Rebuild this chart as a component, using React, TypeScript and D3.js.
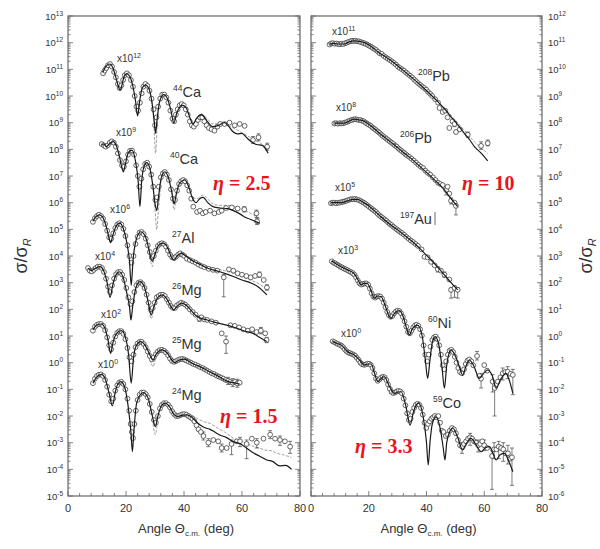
import { useEffect, useRef } from 'react'
import * as d3 from 'd3'

// [angle in deg, log10(sigma/sigmaR)]
type Pt = [number, number]
// [angle, log10 value, log10 low, log10 high]
type Err = [number, number, number, number]

const X_TICKS = [0, 20, 40, 60, 80]

// ---------- left panel (eta 1.5 .. 2.5) ----------
const ca44Theory: Pt[] = [[12.1,10.9],[13,11.1],[14.4,11.2],[15.5,11.05],[16.5,10.7],[17.4,10.35],[18,10.22],[18.6,10.4],[19.3,10.72],[20.2,10.84],[21.2,10.75],[22.3,10.4],[23.3,9.8],[24,9.25],[24.7,9.8],[25.6,10.3],[26.7,10.42],[27.8,10.3],[28.9,9.8],[29.7,9.1],[30.2,8.6],[30.7,9.1],[31.6,9.8],[33,10.05],[34.3,9.9],[35.5,9.45],[36.5,9.0],[37.5,9.35],[39.3,9.66],[40.8,9.55],[42,9.2],[43.1,8.95],[44.3,9.15],[46,9.3],[48,9.05],[50,8.85],[52,8.9],[54,9.0],[55.5,8.85],[57,8.65],[58.5,8.58],[60,8.6],[61.5,8.45],[63,8.3],[65,8.18],[67,8.15],[69,7.85]]
const ca44Dashed: Pt[][] = [
  [[27.8,10.3],[28.9,9.8],[29.6,9.0],[30.2,7.85],[30.8,9.0],[31.6,9.8],[33,10.05]],
  [[46,9.35],[48,9.15],[50,8.95],[52,8.95],[54,8.95],[56,8.85],[58,8.75],[60,8.62],[62,8.5],[64,8.38],[66.5,8.22],[69,8.0]]
]
const ca44Data: Pt[] = [[12.1,10.85],[12.6,10.95],[13.2,11.05],[13.8,11.15],[14.5,11.2],[15.2,11.1],[15.9,10.9],[16.5,10.7],[17.2,10.45],[17.8,10.3],[18.4,10.4],[19,10.6],[19.6,10.78],[20.3,10.85],[21,10.78],[21.7,10.6],[22.4,10.35],[23,10.0],[23.6,9.6],[24.2,9.45],[24.8,9.75],[25.4,10.1],[26,10.35],[26.7,10.45],[27.4,10.38],[28.1,10.2],[28.8,9.9],[29.5,9.5],[30,8.9],[30.5,9.2],[31.1,9.6],[31.8,9.9],[32.5,10.05],[33.2,10.05],[33.9,9.95],[34.6,9.75],[35.3,9.45],[36,9.15],[36.6,9.05],[37.2,9.3],[37.8,9.5],[38.5,9.65],[39.2,9.7],[39.9,9.65],[40.6,9.5],[41.3,9.3],[42,9.05],[42.7,8.9],[43.4,8.85],[44.1,8.95],[44.8,9.1],[45.5,9.2],[46.3,9.2],[47,9.05],[47.8,8.9],[48.6,8.8],[49.5,8.75],[50.5,8.7],[51.5,8.85],[52.5,8.95],[54,8.95],[55.7,9.0],[57.5,8.9],[59.2,8.95],[60.9,8.88],[63.8,8.35],[65.7,8.45],[68.7,8.1]]
const ca44Err: Err[] = [[63.8,8.35,8.22,8.48],[65.7,8.45,8.32,8.58],[68.7,8.1,7.97,8.23]]

const ca40Theory: Pt[] = [[11.6,8.15],[12.4,8.2],[13.3,8.1],[14.2,8.2],[15.6,8.29],[16.8,8.1],[17.8,7.7],[18.6,7.3],[19.1,7.15],[19.7,7.4],[20.7,7.85],[22,7.97],[23.2,7.6],[24.2,6.8],[24.8,5.85],[25.4,6.8],[26.2,7.35],[27.1,7.5],[28.2,7.3],[29.3,6.6],[30.1,5.9],[30.6,5.7],[31.2,6.2],[32.2,6.95],[33.4,7.16],[34.6,6.95],[35.8,6.4],[36.6,5.95],[37.3,6.3],[38.6,6.75],[40.3,6.85],[41.6,6.6],[43,6.15],[44.2,6.0],[45.4,6.15],[46.6,6.2],[48.2,6.0],[50,5.85],[52.5,5.8],[55,5.78],[57,5.7],[59.4,5.57],[61,5.45],[62.8,5.38],[64.5,5.3],[66.2,5.23]]
const ca40Dashed: Pt[][] = [
  [[29.3,6.6],[30.1,5.6],[30.6,4.98],[31.1,5.6],[32.2,6.95]],
  [[35.8,6.4],[36.6,5.73],[37.3,6.3]],
  [[43,6.2],[44.5,6.15],[46.6,6.29],[48.5,6.1],[50,5.95],[52.5,5.9],[55,5.9],[57.5,5.85],[60,5.75],[63,5.6],[66.2,5.4]]
]
const ca40Data: Pt[] = [[11.6,8.2],[12.3,8.15],[13,8.1],[13.7,8.15],[14.4,8.25],[15.1,8.3],[15.8,8.25],[16.5,8.1],[17.2,7.85],[17.9,7.6],[18.6,7.4],[19.3,7.35],[20,7.55],[20.7,7.8],[21.4,7.95],[22.1,7.95],[22.8,7.8],[23.5,7.4],[24.1,7.0],[24.6,6.6],[25.3,6.9],[25.9,7.25],[26.6,7.45],[27.3,7.5],[28,7.35],[28.7,7.05],[29.4,6.6],[30.1,6.1],[30.7,6.2],[31.3,6.6],[32,6.95],[32.7,7.1],[33.4,7.15],[34.1,7.05],[34.8,6.85],[35.5,6.5],[36.2,6.15],[36.9,6.1],[37.6,6.45],[38.3,6.7],[39,6.8],[39.7,6.85],[40.4,6.8],[41.1,6.65],[41.8,6.45],[42.5,6.15],[43.2,5.85],[44.5,5.65],[45.5,5.7],[46.5,5.6],[47.5,5.65],[49,5.7],[50.5,5.6],[52,5.65],[53,5.7],[54.5,5.8],[56.5,5.82],[58.5,5.78],[60.8,5.75],[65,5.6],[65.2,5.3]]
const ca40Err: Err[] = [[60.8,5.75,5.65,5.85],[65,5.6,5.45,5.72],[65.2,5.3,5.18,5.42]]

const al27Theory: Pt[] = [[8.6,5.3],[9.7,5.48],[10.9,5.54],[12,5.45],[13.2,5.1],[14.1,4.7],[14.7,4.5],[15.4,4.75],[16.5,5.1],[17.8,5.23],[19,5.05],[20.2,4.55],[21.2,3.8],[21.8,2.9],[22.4,3.8],[23.5,4.6],[25.1,4.91],[26.6,4.75],[27.8,4.3],[28.6,3.9],[29.1,3.8],[29.8,4.0],[31.2,4.4],[32.8,4.48],[34.4,4.3],[35.7,3.95],[36.6,3.85],[37.6,4.0],[39.1,4.1],[40.6,4.0],[42.5,3.85],[44.3,3.75],[46,3.66],[48,3.55],[50,3.48],[52,3.42],[54,3.35],[57,3.23],[60,3.1],[62.8,3.0],[65.5,2.85],[68.6,2.54]]
const al27Dashed: Pt[][] = [
  [[27.8,4.3],[28.6,3.75],[29,3.6],[29.4,3.75],[30.2,4.1]],
  [[46,3.7],[50,3.55],[54,3.45],[57,3.35],[60,3.22],[62.8,3.1],[65.5,2.98],[68.6,2.75]]
]
const al27Data: Pt[] = [[8.6,5.28],[9.3,5.42],[10,5.5],[10.7,5.55],[11.4,5.5],[12.1,5.4],[12.8,5.2],[13.5,4.95],[14.2,4.7],[14.9,4.65],[15.6,4.85],[16.3,5.05],[17,5.18],[17.7,5.23],[18.4,5.18],[19.1,5.02],[19.8,4.75],[20.5,4.4],[21.2,4.0],[21.9,3.75],[22.6,4.0],[23.3,4.45],[24,4.72],[24.7,4.88],[25.4,4.9],[26.1,4.82],[26.8,4.65],[27.5,4.4],[28.2,4.15],[28.9,3.95],[29.6,4.0],[30.3,4.2],[31,4.38],[31.7,4.45],[32.4,4.48],[33.1,4.45],[33.8,4.35],[34.5,4.2],[35.2,4.05],[35.9,3.95],[36.6,3.92],[37.3,3.98],[38,4.05],[38.7,4.1],[39.4,4.05],[40.1,4.0],[41,3.9],[42,3.85],[43,3.8],[44,3.75],[45,3.68],[46,3.62],[47,3.58],[48.5,3.52],[50,3.48],[51.5,3.45],[53.7,3.2],[55.5,3.5],[57,3.45],[58.5,3.35],[60,3.3],[61.5,3.25],[63,3.2],[64.5,3.25],[66,3.3],[67.5,3.1],[68.6,2.82]]
const al27Err: Err[] = [[53.7,3.2,2.47,3.3],[66,3.3,3.2,3.4],[68.6,2.82,2.72,2.92]]

const mg26Theory: Pt[] = [[6.9,3.55],[8,3.45],[9.2,3.52],[11,3.6],[12.3,3.45],[13.5,3.0],[14.5,2.45],[15.4,2.9],[16.6,3.3],[17.8,3.41],[19,3.2],[20.3,2.6],[21.2,2.1],[21.7,1.6],[22.3,2.1],[23.4,2.8],[24.8,3.04],[26.3,2.85],[27.6,2.3],[28.7,1.79],[29.6,2.1],[31,2.45],[32.5,2.54],[34,2.4],[35.5,2.1],[36.4,1.98],[37.5,2.1],[39.2,2.23],[40.8,2.15],[42.5,1.95],[44,1.78],[45.5,1.68],[48,1.6],[51,1.5],[54.7,1.41],[58,1.3],[61,1.18],[63.8,1.1],[66,0.95],[68.5,0.79]]
const mg26Dashed: Pt[][] = [[[27.6,2.3],[28.7,1.65],[29.6,2.1]]]
const mg26Data: Pt[] = [[6.9,3.55],[7.5,3.45],[8.2,3.42],[8.9,3.48],[9.6,3.55],[10.3,3.6],[11,3.6],[11.7,3.55],[12.4,3.4],[13.1,3.15],[13.8,2.85],[14.5,2.65],[15.2,2.9],[15.9,3.15],[16.6,3.32],[17.3,3.4],[18,3.4],[18.7,3.3],[19.4,3.1],[20.1,2.8],[20.8,2.45],[21.5,2.2],[22.2,2.3],[22.9,2.65],[23.6,2.9],[24.3,3.0],[25,3.02],[25.7,2.95],[26.4,2.8],[27.1,2.55],[27.8,2.25],[28.5,2.0],[29.2,2.05],[29.9,2.25],[30.6,2.45],[31.3,2.5],[32,2.55],[32.7,2.55],[33.4,2.5],[34.1,2.38],[34.8,2.25],[35.5,2.12],[36.2,2.05],[36.9,2.05],[37.6,2.15],[38.3,2.2],[39,2.25],[39.7,2.22],[40.4,2.18],[41.2,2.1],[42,2.0],[43,1.9],[44,1.8],[45.3,1.65],[46,1.7],[47,1.62],[48,1.6],[49.5,1.55],[51,1.5],[53,1.1],[54.5,0.79],[56,1.4],[57.5,1.38],[59,1.32],[60.5,1.25],[62,1.2],[63.5,1.25],[65,1.15],[66.5,1.2],[68,1.1],[68.5,0.85]]
const mg26Err: Err[] = [[45.3,1.65,1.55,1.75],[54.5,0.79,0.35,1.0],[66.5,1.2,1.08,1.32],[68.5,0.85,0.75,0.95]]

const mg25Theory: Pt[] = [[8.6,1.23],[9.8,1.4],[11.5,1.45],[12.7,1.3],[13.8,0.85],[14.7,0.35],[15.5,0.75],[16.8,1.1],[18.4,1.2],[19.8,0.95],[20.9,0.3],[21.8,-0.77],[22.6,0.2],[23.6,0.65],[25.1,0.79],[26.6,0.65],[28.2,0.3],[29.3,0.1],[30.3,0.3],[32.4,0.48],[34.3,0.35],[35.8,0.1],[36.8,0.0],[38,0.08],[40.2,0.13],[42,0.03],[43.7,-0.07],[45.5,-0.15],[47.1,-0.24],[49,-0.35],[50.6,-0.44],[52.5,-0.55],[54,-0.65],[55.5,-0.72],[57,-0.75],[59.2,-0.8]]
const mg25Dashed: Pt[][] = [[[28.2,0.3],[29.3,-0.15],[30.3,0.3]]]
const mg25Data: Pt[] = [[8.6,1.2],[9.3,1.35],[10,1.42],[10.7,1.45],[11.4,1.45],[12.1,1.38],[12.8,1.22],[13.5,0.95],[14.2,0.65],[14.9,0.5],[15.6,0.75],[16.3,0.98],[17,1.12],[17.7,1.18],[18.4,1.18],[19.1,1.08],[19.8,0.88],[20.5,0.55],[21.2,0.2],[21.9,0.05],[22.6,0.3],[23.3,0.58],[24,0.72],[24.7,0.78],[25.4,0.78],[26.1,0.7],[26.8,0.58],[27.5,0.42],[28.2,0.25],[28.9,0.12],[29.6,0.2],[30.3,0.32],[31,0.42],[31.7,0.47],[32.4,0.48],[33.1,0.45],[33.8,0.38],[34.5,0.28],[35.2,0.15],[35.9,0.06],[36.6,0.03],[37.3,0.06],[38,0.1],[38.7,0.13],[39.4,0.14],[40.1,0.12],[40.8,0.08],[41.6,0.04],[42.4,0.0],[43.2,-0.05],[44,-0.08],[44.8,-0.12],[45.6,-0.17],[46.4,-0.2],[47.2,-0.25],[48,-0.3],[48.8,-0.35],[49.6,-0.4],[50.4,-0.43],[51.2,-0.48],[52,-0.52],[52.8,-0.56],[53.6,-0.6],[54.4,-0.65],[55.2,-0.68],[56,-0.72],[56.8,-0.75],[57.6,-0.72],[58.4,-0.78],[59.2,-0.75]]
const mg25Err: Err[] = [[55.2,-0.68,-0.82,-0.55],[56.8,-0.75,-0.9,-0.6],[58.4,-0.78,-0.92,-0.62]]

const mg24Theory: Pt[] = [[8.6,-0.77],[9.8,-0.55],[11.5,-0.44],[12.8,-0.6],[14.2,-1.15],[15.3,-1.62],[16.3,-1.1],[17.2,-0.8],[18.2,-0.71],[19.5,-0.9],[20.7,-1.6],[21.7,-2.6],[22.2,-3.34],[22.7,-2.6],[23.7,-1.5],[25.9,-1.12],[27.5,-1.3],[29,-1.95],[30.1,-2.4],[31,-2.0],[32.3,-1.6],[33.6,-1.52],[35,-1.65],[36.6,-1.95],[37.9,-2.02],[39.4,-1.97],[41.1,-1.96],[42.7,-2.05],[44.8,-2.27],[46.5,-2.4],[47.8,-2.46],[49,-2.5],[50.6,-2.6],[52.5,-2.72],[54.5,-2.8],[57,-2.96],[59.5,-3.05],[61.5,-3.2],[64,-3.39],[66,-3.5],[68.5,-3.65],[70.5,-3.7],[73,-3.87],[75,-3.85],[77.1,-4.0]]
const mg24Dashed: Pt[][] = [
  [[29,-1.95],[30.1,-2.7],[31,-2.0]],
  [[41.1,-1.96],[43,-2.0],[45,-2.12],[47,-2.22],[49,-2.28],[51,-2.42],[54,-2.6],[57,-2.83],[60,-2.95],[62,-3.05],[64,-3.14],[66,-3.2],[68,-3.28],[70,-3.3],[72,-3.4],[74,-3.45],[77,-3.55]]
]
const mg24Data: Pt[] = [[8.6,-0.77],[9.3,-0.6],[10,-0.5],[10.7,-0.45],[11.4,-0.44],[12.1,-0.5],[12.8,-0.65],[13.5,-0.9],[14.2,-1.2],[14.9,-1.45],[15.6,-1.35],[16.3,-1.05],[17,-0.85],[17.7,-0.74],[18.4,-0.72],[19.1,-0.8],[19.8,-1.0],[20.5,-1.35],[21.1,-1.8],[21.6,-2.3],[22,-2.6],[22.4,-2.83],[22.9,-2.3],[23.4,-1.8],[24,-1.4],[24.7,-1.2],[25.4,-1.12],[26.1,-1.12],[26.8,-1.18],[27.5,-1.3],[28.2,-1.55],[28.9,-1.85],[29.6,-2.15],[30.3,-2.25],[31,-2.0],[31.7,-1.72],[32.4,-1.58],[33.1,-1.52],[33.8,-1.52],[34.5,-1.58],[35.2,-1.68],[35.9,-1.82],[36.6,-1.93],[37.3,-2.0],[38,-2.0],[38.7,-1.97],[39.4,-1.94],[40.1,-1.93],[40.8,-1.95],[41.5,-2.0],[42.2,-2.05],[42.9,-2.1],[43.6,-2.2],[44.3,-2.35],[45,-2.5],[45.8,-2.6],[46.7,-2.75],[48.4,-3.0],[50.1,-2.9],[51.8,-2.95],[53,-3.2],[54.7,-3.2],[56.4,-3.05],[58.2,-2.95],[59.3,-2.95],[61.6,-3.05],[63.4,-2.85],[65.1,-3.0],[67.4,-2.85],[69.7,-2.7],[71.4,-2.85],[73.1,-2.9],[74.8,-2.95],[76.6,-3.15]]
const mg24Err: Err[] = [[46.7,-2.75,-2.9,-2.6],[48.4,-3.0,-3.15,-2.85],[53,-3.2,-3.35,-3.05],[56.4,-3.05,-3.45,-2.9],[59.3,-2.95,-3.15,-2.8],[61.6,-3.05,-3.6,-2.9],[65.1,-3.0,-3.2,-2.85],[69.7,-2.7,-2.85,-2.55],[73.1,-2.9,-3.1,-2.75],[76.6,-3.15,-3.4,-2.95]]

// ---------- right panel (eta 3.3 .. 10) ----------
const pb208Theory: Pt[] = [[6.35,10.95],[8,10.97],[9.5,10.95],[11.5,10.95],[13,11.02],[15,11.07],[16.8,11.05],[18.5,11.0],[20.5,10.88],[23.1,10.66],[26,10.45],[28.9,10.23],[31.7,9.98],[34.6,9.72],[37.5,9.45],[40.4,9.16],[43.9,8.79],[46,8.55],[48.5,8.22],[51,7.9],[53.1,7.6],[55,7.35],[56.6,7.1],[59,6.85],[61.2,6.57]]
const pb208Dashed: Pt[][] = [[[46,8.58],[48.5,8.28],[52,7.85],[56.6,7.28],[61.2,6.85]]]
const pb208Data: Pt[] = [[6.4,10.93],[7,10.97],[7.6,10.98],[8.2,10.96],[8.8,10.97],[9.4,10.95],[10,10.94],[10.6,10.96],[11.2,10.95],[11.8,10.98],[12.4,11.0],[13,11.03],[13.6,11.05],[14.2,11.07],[14.8,11.06],[15.4,11.07],[16,11.05],[16.6,11.05],[17.2,11.02],[17.8,11.0],[18.4,10.98],[19,10.95],[19.6,10.92],[20.2,10.88],[20.8,10.85],[21.4,10.8],[22,10.76],[22.6,10.72],[23.2,10.66],[23.8,10.6],[24.5,10.58],[25.2,10.5],[25.9,10.45],[26.6,10.4],[27.3,10.35],[28,10.3],[28.7,10.24],[29.4,10.18],[30.1,10.1],[30.8,10.05],[31.5,10.0],[32.2,9.95],[32.9,9.88],[33.6,9.82],[34.3,9.76],[35,9.7],[35.7,9.62],[36.4,9.55],[37.1,9.48],[37.8,9.42],[38.5,9.36],[39.2,9.3],[39.9,9.24],[40.6,9.15],[41.3,9.08],[42,9.0],[43,8.88],[44,8.75],[44.5,8.55],[45.6,8.4],[46.5,8.45],[47.3,8.2],[47.9,7.8],[49,8.05],[49.7,7.95],[50.2,7.65],[51.5,7.75],[54.3,7.55],[58.9,7.13],[61.2,7.23]]
const pb208Err: Err[] = [[49.7,7.95,7.85,8.05],[54.3,7.55,7.45,7.65],[58.9,7.13,7.0,7.28],[61.2,7.23,7.13,7.35]]

const pb206Theory: Pt[] = [[8.1,7.98],[10,7.98],[11.5,7.98],[13,8.05],[15,8.13],[16.8,8.1],[18.5,8.05],[20.5,7.9],[23.1,7.66],[26,7.41],[28.9,7.16],[31.7,6.91],[34.6,6.66],[37.5,6.38],[40.4,6.1],[43.3,5.8],[46.2,5.48],[48.5,5.15],[50.8,4.85]]
const pb206Data: Pt[] = [[8.1,7.97],[8.7,7.98],[9.3,7.96],[9.9,7.98],[10.5,7.97],[11.1,7.98],[11.7,8.0],[12.3,8.02],[12.9,8.05],[13.5,8.08],[14.1,8.1],[14.7,8.12],[15.3,8.13],[15.9,8.12],[16.5,8.1],[17.1,8.1],[17.7,8.07],[18.3,8.05],[18.9,8.0],[19.5,7.96],[20.1,7.92],[20.7,7.88],[21.3,7.82],[21.9,7.77],[22.5,7.72],[23.1,7.67],[23.7,7.62],[24.3,7.56],[24.9,7.5],[25.5,7.45],[26.1,7.4],[26.7,7.35],[27.3,7.3],[27.9,7.25],[28.5,7.2],[29.1,7.14],[29.7,7.1],[30.3,7.03],[30.9,6.98],[31.5,6.93],[32.1,6.88],[32.7,6.82],[33.3,6.77],[34,6.72],[34.8,6.65],[35.6,6.58],[36.4,6.5],[37.2,6.42],[38,6.35],[38.8,6.3],[39.6,6.2],[40.4,6.12],[41.3,6.05],[42.2,5.95],[43.1,5.85],[44,5.75],[44.8,5.7],[45.6,5.66],[46.8,5.47],[47.9,5.34],[47.3,5.6],[48.5,5.07],[49.7,5.0],[50.2,4.88]]
const pb206Err: Err[] = [[46.8,5.47,5.29,5.6],[48.5,5.07,4.95,5.18],[50.2,4.88,4.54,4.95]]

const au197Theory: Pt[] = [[6.9,5.0],[8.5,5.0],[10.4,5.0],[12.7,5.07],[14.5,5.12],[16.2,5.12],[18,5.02],[19.6,4.91],[21.9,4.7],[24.2,4.47],[27,4.22],[30,3.98],[32.9,3.73],[35.8,3.48],[38.7,3.17],[41.6,2.85],[43.9,2.58],[46.2,2.29],[48.5,2.0],[50.8,1.73]]
const au197Data: Pt[] = [[6.9,4.98],[7.5,5.0],[8.1,5.0],[8.7,4.98],[9.3,5.0],[9.9,5.0],[10.5,5.02],[11.1,5.03],[11.7,5.05],[12.3,5.07],[12.9,5.1],[13.5,5.12],[14.1,5.13],[14.7,5.13],[15.3,5.14],[15.9,5.12],[16.5,5.1],[17.1,5.07],[17.7,5.03],[18.3,5.0],[18.9,4.95],[19.5,4.9],[20.1,4.85],[20.7,4.8],[21.3,4.75],[21.9,4.7],[22.5,4.65],[23.1,4.58],[23.7,4.52],[24.3,4.47],[24.9,4.42],[25.5,4.37],[26.1,4.32],[26.7,4.26],[27.3,4.2],[27.9,4.16],[28.5,4.1],[29.1,4.05],[29.7,4.0],[30.3,3.95],[30.9,3.9],[31.5,3.86],[32.2,3.8],[33,3.72],[33.8,3.65],[34.6,3.58],[35.4,3.52],[36.2,3.45],[37,3.38],[38.3,3.25],[39.3,2.97],[40.4,2.95],[41.6,2.78],[42.8,2.65],[43.9,2.5],[45,2.45],[46.2,2.3],[47.9,2.12],[48.5,1.73],[49.7,1.8],[50.8,1.73]]
const au197Err: Err[] = [[43.9,2.5,2.4,2.6],[46.2,2.3,2.2,2.4],[48.5,1.73,1.42,1.8],[49.7,1.8,1.45,1.88],[50.8,1.73,1.42,1.82]]

const ni60Theory: Pt[] = [[7.2,2.81],[8.5,2.72],[10.4,2.6],[12.7,2.48],[15,2.33],[16.3,2.1],[17.3,1.92],[18.5,1.98],[19.6,1.96],[20.8,1.7],[21.9,1.42],[23,1.5],[24.2,1.48],[25.5,1.2],[26.8,0.8],[27.7,0.66],[28.9,0.85],[30.6,0.95],[32,0.7],[33.2,0.25],[34.1,0.04],[35,0.25],[36.9,0.41],[38.5,0.0],[39.6,-0.9],[40.4,-1.59],[41.2,-0.9],[42,-0.25],[43,-0.02],[44.2,-0.3],[45.4,-1.2],[46.2,-1.96],[47,-1.1],[48.5,-0.52],[50.2,-0.8],[51.5,-1.2],[52.5,-1.46],[53.6,-1.15],[54.8,-0.9],[56.5,-1.15],[58.3,-1.59],[59.8,-1.4],[61.2,-1.27],[62.8,-1.5],[64.1,-1.96],[65.8,-1.6],[67.5,-1.4],[68.8,-1.7],[69.9,-2.15]]
const ni60Data: Pt[] = [[7.2,2.8],[7.8,2.75],[8.4,2.72],[9,2.68],[9.6,2.64],[10.2,2.6],[10.8,2.57],[11.4,2.53],[12,2.5],[12.6,2.47],[13.2,2.43],[13.8,2.4],[14.4,2.36],[15,2.3],[15.6,2.2],[16.2,2.08],[16.8,1.98],[17.4,1.93],[18,1.95],[18.6,1.97],[19.2,1.97],[19.8,1.92],[20.4,1.78],[21,1.6],[21.6,1.48],[22.2,1.44],[22.8,1.48],[23.4,1.5],[24,1.48],[24.6,1.4],[25.2,1.25],[25.8,1.08],[26.4,0.9],[27,0.78],[27.6,0.72],[28.2,0.75],[28.8,0.85],[29.4,0.92],[30,0.95],[30.6,0.93],[31.2,0.85],[31.8,0.72],[32.4,0.55],[33,0.35],[33.6,0.15],[34.2,0.1],[34.8,0.2],[35.4,0.32],[36,0.4],[36.6,0.42],[37.2,0.38],[37.8,0.25],[38.4,0.02],[39,-0.35],[39.6,-0.7],[40.2,-0.95],[40.8,-0.7],[41.4,-0.4],[42,-0.15],[42.6,-0.05],[43.2,-0.02],[43.8,-0.12],[44.4,-0.35],[45,-0.7],[45.6,-1.1],[46.2,-1.25],[46.8,-0.95],[47.4,-0.7],[48,-0.55],[48.6,-0.52],[49.2,-0.6],[49.8,-0.78],[50.4,-1.0],[51,-1.2],[51.6,-1.35],[52.3,-1.4],[53,-1.25],[53.6,-1.05],[54.2,-0.92],[54.8,-0.88],[55.5,-0.95],[56.2,-1.1],[57.5,-0.75],[58.3,-1.5],[58.9,-1.6],[60,-1.09],[61,-1.3],[62.9,-1.71],[63.6,-1.95],[64.7,-1.71],[65.6,-1.55],[66.4,-1.4],[67.3,-1.35],[68.1,-1.34],[69.1,-1.42],[69.9,-1.46]]
const ni60Err: Err[] = [[57.5,-0.75,-0.9,-0.58],[58.9,-1.6,-1.95,-1.4],[62.9,-1.71,-2.1,-1.45],[63.6,-1.95,-3.0,-1.75],[66.4,-1.4,-1.65,-1.2],[68.1,-1.34,-1.6,-1.15],[69.9,-1.46,-2.2,-1.25]]

const co59Theory: Pt[] = [[7.5,-0.21],[9,-0.28],[10.4,-0.34],[11.5,-0.45],[12.7,-0.59],[13.8,-0.65],[15,-0.71],[16.8,-0.9],[18.5,-1.09],[19.6,-1.05],[20.8,-1.05],[22,-1.4],[23.1,-1.71],[24.2,-1.6],[25.4,-1.52],[27.2,-1.9],[28.9,-2.15],[30,-2.1],[31.2,-2.09],[32.8,-2.6],[34.3,-3.34],[35.6,-2.8],[37.2,-2.52],[38.8,-3.0],[40,-4.0],[40.6,-4.84],[41.2,-4.0],[42,-3.3],[43.3,-3.03],[44.8,-3.5],[45.8,-4.2],[46.4,-4.65],[47,-4.0],[48,-3.6],[49.1,-3.46],[50.8,-3.8],[52.5,-4.27],[54,-4.0],[55.4,-3.84],[57,-4.05],[58.9,-4.34],[60.3,-4.2],[61.8,-4.15],[63,-4.4],[64.1,-4.65],[65.5,-4.45],[67,-4.4],[68.5,-4.7],[69.9,-5.09]]
const co59Data: Pt[] = [[7.5,-0.2],[8.1,-0.23],[8.7,-0.27],[9.3,-0.3],[9.9,-0.33],[10.5,-0.36],[11.1,-0.42],[11.7,-0.5],[12.3,-0.57],[12.9,-0.62],[13.5,-0.64],[14.1,-0.67],[14.7,-0.7],[15.3,-0.74],[15.9,-0.82],[16.5,-0.9],[17.1,-1.0],[17.7,-1.06],[18.3,-1.08],[18.9,-1.07],[19.5,-1.04],[20.1,-1.04],[20.7,-1.08],[21.3,-1.2],[21.9,-1.4],[22.5,-1.6],[23.1,-1.68],[23.7,-1.63],[24.3,-1.56],[24.9,-1.53],[25.5,-1.55],[26.1,-1.65],[26.7,-1.82],[27.3,-1.98],[27.9,-2.1],[28.5,-2.14],[29.1,-2.12],[29.7,-2.08],[30.3,-2.06],[30.9,-2.08],[31.5,-2.15],[32.1,-2.35],[32.7,-2.6],[33.3,-2.9],[33.9,-3.15],[34.5,-3.1],[35.1,-2.85],[35.7,-2.7],[36.3,-2.58],[36.9,-2.54],[37.5,-2.58],[38.1,-2.7],[38.7,-2.95],[39.3,-3.25],[39.9,-3.45],[40.5,-3.3],[41.1,-3.2],[41.7,-3.1],[42.3,-3.05],[42.9,-3.0],[43.5,-3.05],[44.1,-3.0],[44.7,-3.25],[45.3,-3.55],[45.9,-3.6],[46.7,-3.75],[47.4,-3.7],[48.1,-3.55],[48.8,-3.45],[49.5,-3.5],[50.2,-3.65],[50.9,-3.9],[51.6,-4.1],[52.3,-4.15],[53,-4.05],[53.7,-3.95],[54.4,-3.85],[55.1,-3.8],[55.8,-3.85],[56.5,-3.95],[57.2,-4.0],[57.9,-4.1],[58.6,-4.05],[59.3,-3.95],[60,-4.1],[61,-4.2],[62.7,-4.5],[63.4,-4.25],[64.2,-4.25],[65,-4.15],[65.8,-4.2],[66.6,-4.25],[67.4,-4.4],[68.2,-4.4],[69,-4.6],[69.6,-4.55]]
const co59Err: Err[] = [[52.3,-4.15,-4.4,-4.0],[55.1,-3.8,-4.1,-3.65],[57.9,-4.1,-4.35,-3.9],[60,-4.1,-4.3,-3.9],[62.7,-4.5,-5.75,-4.3],[63.4,-4.25,-4.6,-4.0],[65,-4.15,-4.6,-3.95],[66.6,-4.25,-4.7,-4.0],[68.2,-4.4,-4.8,-4.1],[69.6,-4.55,-5.6,-4.2]]

interface Nucleus {
  theory: Pt[]
  dashed: Pt[][]
  data: Pt[]
  errors: Err[]
}

const leftNuclei: Nucleus[] = [
  { theory: ca44Theory, dashed: ca44Dashed, data: ca44Data, errors: ca44Err },
  { theory: ca40Theory, dashed: ca40Dashed, data: ca40Data, errors: ca40Err },
  { theory: al27Theory, dashed: al27Dashed, data: al27Data, errors: al27Err },
  { theory: mg26Theory, dashed: mg26Dashed, data: mg26Data, errors: mg26Err },
  { theory: mg25Theory, dashed: mg25Dashed, data: mg25Data, errors: mg25Err },
  { theory: mg24Theory, dashed: mg24Dashed, data: mg24Data, errors: mg24Err },
]
const rightNuclei: Nucleus[] = [
  { theory: pb208Theory, dashed: pb208Dashed, data: pb208Data, errors: pb208Err },
  { theory: pb206Theory, dashed: [], data: pb206Data, errors: pb206Err },
  { theory: au197Theory, dashed: [], data: au197Data, errors: au197Err },
  { theory: ni60Theory, dashed: [], data: ni60Data, errors: ni60Err },
  { theory: co59Theory, dashed: [], data: co59Data, errors: co59Err },
]

// text annotations: [mass, element, x, baseline]
const leftLabels: [string, string, number, number][] = [
  ['44', 'Ca', 173, 97], ['40', 'Ca', 170, 164], ['27', 'Al', 172, 243],
  ['26', 'Mg', 172, 295], ['25', 'Mg', 172, 349], ['24', 'Mg', 172, 400],
]
const rightLabels: [string, string, number, number][] = [
  ['208', 'Pb', 418, 81], ['206', 'Pb', 400, 143], ['197', 'Au', 400, 224],
  ['60', 'Ni', 428, 328], ['59', 'Co', 433, 408],
]
const leftFactors: [string, number, number][] = [
  ['12', 117, 62], ['9', 116, 136], ['6', 110, 213], ['4', 95, 260], ['2', 101, 318], ['0', 98, 368],
]
const rightFactors: [string, number, number][] = [
  ['11', 332, 35], ['8', 336, 111], ['5', 335, 191], ['3', 338, 254], ['0', 341, 337],
]
const etaLabels: [string, number, number][] = [
  ['2.5', 213, 190], ['1.5', 220, 423], ['10', 462, 190], ['3.3', 355, 453],
]

const FONT = '"Liberation Sans", Arial, sans-serif'
const TOP = 16
const BOTTOM = 496

export default function App() {
  const svgRef = useRef<SVGSVGElement>(null)

  useEffect(() => {
    if (!svgRef.current) return
    const svg = d3.select(svgRef.current)
    svg.selectAll('*').remove()

    const panels = [
      { x0: 68, x1: 300, lo: -5, hi: 13, nuclei: leftNuclei, side: 'left' },
      { x0: 311, x1: 542, lo: -6, hi: 12, nuclei: rightNuclei, side: 'right' },
    ]

    panels.forEach(p => {
      const x = d3.scaleLinear().domain([0, 80]).range([p.x0, p.x1])
      const y = d3.scaleLog().domain([Math.pow(10, p.lo), Math.pow(10, p.hi)]).range([BOTTOM, TOP])
      const g = svg.append('g')

      g.append('rect')
        .attr('x', p.x0).attr('y', TOP)
        .attr('width', p.x1 - p.x0).attr('height', BOTTOM - TOP)
        .attr('fill', 'none').attr('stroke', '#666').attr('stroke-width', 1.2)

      // log ticks on both vertical edges
      for (let e = p.lo; e <= p.hi; e++) {
        for (let m = 1; m < 10; m++) {
          if (e === p.hi && m > 1) break
          const yy = y(m * Math.pow(10, e))
          const len = m === 1 ? 5 : 2.5
          g.append('line').attr('x1', p.x0).attr('x2', p.x0 + len).attr('y1', yy).attr('y2', yy)
            .attr('stroke', '#666').attr('stroke-width', 0.8)
          g.append('line').attr('x1', p.x1).attr('x2', p.x1 - len).attr('y1', yy).attr('y2', yy)
            .attr('stroke', '#666').attr('stroke-width', 0.8)
        }
        const t = g.append('text')
          .attr('font-family', FONT).attr('font-size', 9.5).attr('fill', '#333')
          .attr('y', y(Math.pow(10, e)) + 3.5)
        if (p.side === 'left') t.attr('x', p.x0 - 5).attr('text-anchor', 'end')
        else t.attr('x', p.x1 + 6).attr('text-anchor', 'start')
        t.append('tspan').text('10')
        t.append('tspan').attr('font-size', 6.5).attr('dy', -4).text(String(e))
      }

      // x ticks
      d3.range(0, 81, 4).forEach(v => {
        const len = v % 20 === 0 ? 5 : 3
        g.append('line').attr('x1', x(v)).attr('x2', x(v)).attr('y1', BOTTOM).attr('y2', BOTTOM - len)
          .attr('stroke', '#666').attr('stroke-width', 0.8)
      })
      X_TICKS.forEach(v => {
        g.append('text').attr('x', x(v)).attr('y', 512).attr('text-anchor', 'middle')
          .attr('font-family', FONT).attr('font-size', 11).attr('fill', '#333').text(String(v))
      })

      const t = g.append('text')
        .attr('x', (p.x0 + p.x1) / 2 + 2).attr('y', 533).attr('text-anchor', 'middle')
        .attr('font-family', FONT).attr('font-size', 13).attr('fill', '#333')
      t.append('tspan').text('Angle Θ')
      t.append('tspan').attr('font-size', 8).attr('dy', 3).text('c.m.')
      t.append('tspan').attr('dy', -3).text(' (deg)')

      const line = d3.line<Pt>()
        .x(d => x(d[0]))
        .y(d => y(Math.pow(10, d[1])))
        .curve(d3.curveMonotoneX)

      p.nuclei.forEach(n => {
        n.dashed.forEach(seg => {
          g.append('path').datum(seg).attr('d', line)
            .attr('fill', 'none').attr('stroke', '#888').attr('stroke-width', 0.8)
            .attr('stroke-dasharray', '3,1.5')
        })
        n.errors.forEach(([a, , lo, hi]) => {
          const xx = x(a)
          g.append('line').attr('x1', xx).attr('x2', xx)
            .attr('y1', y(Math.pow(10, lo))).attr('y2', y(Math.pow(10, hi)))
            .attr('stroke', '#444').attr('stroke-width', 0.7)
          ;[lo, hi].forEach(v => {
            g.append('line').attr('x1', xx - 2).attr('x2', xx + 2)
              .attr('y1', y(Math.pow(10, v))).attr('y2', y(Math.pow(10, v)))
              .attr('stroke', '#444').attr('stroke-width', 0.7)
          })
        })
        g.append('g').selectAll('circle').data(n.data).enter().append('circle')
          .attr('cx', d => x(d[0]))
          .attr('cy', d => y(Math.pow(10, d[1])))
          .attr('r', 2.4)
          .attr('fill', '#fff').attr('stroke', '#333').attr('stroke-width', 0.75)
        g.append('path').datum(n.theory).attr('d', line)
          .attr('fill', 'none').attr('stroke', '#1a1a1a').attr('stroke-width', 1.2)
      })
    })

    // nucleus names
    ;[...leftLabels, ...rightLabels].forEach(([mass, el, lx, ly]) => {
      const t = svg.append('text').attr('x', lx).attr('y', ly)
        .attr('font-family', FONT).attr('fill', '#333')
      t.append('tspan').attr('font-size', 8.5).attr('dy', -6).text(mass)
      t.append('tspan').attr('font-size', 14.5).attr('dy', 6).text(el)
    })
    // stray vertical bar after "Au" as in the figure
    svg.append('line').attr('x1', 435).attr('x2', 435).attr('y1', 212).attr('y2', 225)
      .attr('stroke', '#444').attr('stroke-width', 0.8)

    ;[...leftFactors, ...rightFactors].forEach(([exp, lx, ly]) => {
      const t = svg.append('text').attr('x', lx).attr('y', ly)
        .attr('font-family', FONT).attr('font-size', 10).attr('fill', '#333')
      t.append('tspan').text('x10')
      t.append('tspan').attr('font-size', 7).attr('dy', -4).text(exp)
    })

    etaLabels.forEach(([v, lx, ly]) => {
      const t = svg.append('text').attr('x', lx).attr('y', ly)
        .attr('font-family', '"Liberation Serif", "DejaVu Serif", serif')
        .attr('font-size', 20).attr('font-weight', 'bold').attr('fill', '#e8141c')
      t.append('tspan').attr('font-style', 'italic').text('η')
      t.append('tspan').text(' = ' + v)
    })

    // y axis titles
    ;[[27, 256], [592, 256]].forEach(([cx, cy]) => {
      const t = svg.append('text')
        .attr('transform', `translate(${cx},${cy}) rotate(-90)`)
        .attr('text-anchor', 'middle')
        .attr('font-family', FONT).attr('font-size', 18).attr('fill', '#333')
      t.append('tspan').text('σ/σ')
      t.append('tspan').attr('font-size', 11).attr('font-style', 'italic').attr('dy', 4).text('R')
    })
  }, [])

  return (
    <svg
      ref={svgRef}
      width={600}
      height={549}
      style={{ position: 'absolute', left: 0, top: 0, background: '#fff' }}
    />
  )
}
